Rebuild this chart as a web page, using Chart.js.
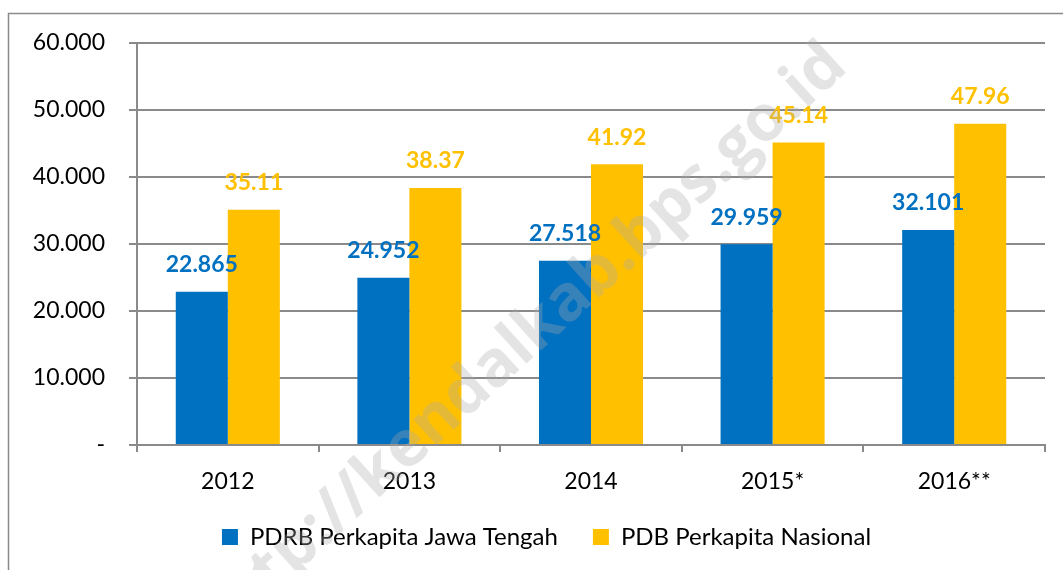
<!DOCTYPE html>
<html>
<head>
<meta charset="utf-8">
<script src="https://cdn.jsdelivr.net/npm/chart.js@4.4.1/dist/chart.umd.min.js"></script>
<style>
  html, body { margin: 0; padding: 0; background: #fff; }
  #wrap { width: 1063px; height: 570px; }
</style>
</head>
<body>
<div id="wrap"><canvas id="bar-chart" width="1063" height="570"></canvas></div>
<script>
const years = ['2012', '2013', '2014', '2015*', '2016**'];
const jatengValues = [22865, 24952, 27518, 29959, 32101];
const nasionalValues = [35110, 38370, 41920, 45140, 47960];
const yTicks = [0, 10000, 20000, 30000, 40000, 50000, 60000];

const blue = '#0070C0';
const gold = '#FFC000';

// thousands with a dot, like the source
const fmtThousands = v => v === 0 ? '-' : v.toString().replace(/\B(?=(\d{3})+(?!\d))/g, '.');

const labelsPlugin = {
    id: 'barLabels',
    afterLayout(chart) {
        // legend sits a bit right of centre in the original
        chart.legend.left += 14;
        chart.legend.right += 14;
    },
    beforeDraw(chart) {
        const c = chart.ctx;
        c.save();
        c.strokeStyle = '#8a8a8a';
        c.lineWidth = 1.5;
        c.strokeRect(8.5, 13.5, 1200, 700);
        c.restore();
    },
    afterDatasetsDraw(chart) {
        const c = chart.ctx;
        c.save();
        c.font = 'bold 23px Lato';
        c.textAlign = 'center';
        c.textBaseline = 'middle';
        chart.data.datasets.forEach((ds, i) => {
            const meta = chart.getDatasetMeta(i);
            meta.data.forEach((bar, j) => {
                const v = ds.data[j];
                const txt = i === 0 ? fmtThousands(v) : (v / 1000).toFixed(2);
                c.fillStyle = ds.backgroundColor;
                c.fillText(txt, bar.x, bar.y - 27);
            });
        });
        c.restore();
    },
    afterDraw(chart) {
        // watermark
        const c = chart.ctx;
        c.save();
        c.translate(523, 342);
        c.rotate(-Math.PI * 0.235);
        c.font = 'bold 64px "Open Sans"';
        c.textAlign = 'center';
        c.textBaseline = 'middle';
        c.fillStyle = 'rgba(170, 170, 170, 0.32)';
        c.fillText('http://kendalkab.bps.go.id', 0, 0);
        c.restore();
    }
};

const ctx = document.getElementById('bar-chart').getContext('2d');

new Chart(ctx, {
    type: 'bar',
    data: {
        labels: years,
        datasets: [{
            label: 'PDRB Perkapita Jawa Tengah',
            data: jatengValues,
            backgroundColor: blue
        }, {
            label: 'PDB Perkapita Nasional',
            data: nasionalValues,
            backgroundColor: gold
        }]
    },
    options: {
        responsive: false,
        animation: false,
        categoryPercentage: 0.573,
        barPercentage: 1,
        layout: {
            padding: { left: 20, right: 18, top: 43, bottom: 11 }
        },
        scales: {
            x: {
                afterFit: axis => { axis.height = 45; },
                grid: {
                    offset: true,
                    drawOnChartArea: false,
                    tickLength: 7,
                    color: '#8a8a8a',
                    lineWidth: 2
                },
                border: { color: '#8a8a8a', width: 2 },
                ticks: {
                    color: '#000',
                    padding: 16,
                    font: { family: 'Lato', size: 23 }
                }
            },
            y: {
                min: 0,
                max: 60000,
                afterBuildTicks: axis => {
                    axis.ticks = yTicks.map(v => ({ value: v }));
                },
                afterFit: axis => { axis.width = 117; },
                grid: {
                    color: '#8a8a8a',
                    lineWidth: 2,
                    tickLength: 8
                },
                border: { color: '#8a8a8a', width: 2 },
                ticks: {
                    color: '#000',
                    padding: 24,
                    font: { family: 'Lato', size: 23 },
                    callback: v => fmtThousands(v)
                }
            }
        },
        plugins: {
            legend: {
                position: 'bottom',
                labels: {
                    boxWidth: 16,
                    boxHeight: 16,
                    padding: 35,
                    color: '#000',
                    font: { family: 'Lato', size: 24 }
                }
            },
            tooltip: { enabled: false }
        }
    },
    plugins: [labelsPlugin]
});
</script>
</body>
</html>
